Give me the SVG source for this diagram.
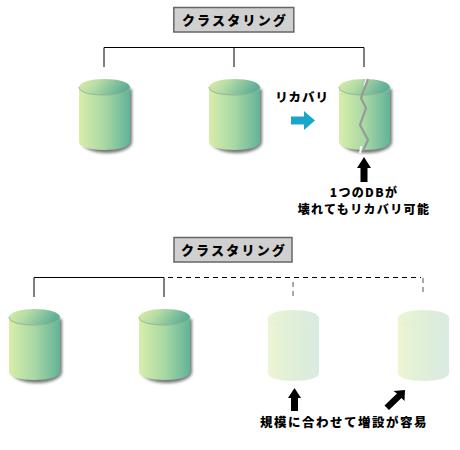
<svg xmlns="http://www.w3.org/2000/svg" width="460" height="450" viewBox="0 0 460 450">
<style>
text{font-family:"Noto Sans CJK JP","Noto Sans",sans-serif;font-weight:900;fill:#000;text-anchor:middle}
.t{font-size:13px;letter-spacing:2.2px}
.l{font-size:12.500px;letter-spacing:.9px}
.n{font-size:12px;letter-spacing:1.350px}
.w{font-size:12.500px;letter-spacing:1.500px}
.box{fill:#d0d0d0;stroke:#666;stroke-width:1.500}
.blk{stroke:#000;stroke-width:1;fill:none}
.gry{stroke:#808080;stroke-width:1.600;fill:none}
.dsh{stroke:#000;stroke-width:1;fill:none;stroke-dasharray:5 4}
.dsv{stroke:#555;stroke-width:1;fill:none;stroke-dasharray:5 4}
</style>
<defs>
<linearGradient id="body" x1="0" x2="1" y1="0" y2="0"><stop offset="0" stop-color="#d8eeaa"/><stop offset=".5" stop-color="#a8d8a4"/><stop offset="1" stop-color="#62b398"/></linearGradient>
<linearGradient id="top" x1="0" x2="1" y1="0" y2=".25"><stop offset="0" stop-color="#dcefa8"/><stop offset=".4" stop-color="#b5dca4"/><stop offset="1" stop-color="#5fae98"/></linearGradient>
<linearGradient id="gbody" x1="0" x2="1" y1="0" y2="0"><stop offset="0" stop-color="#ecf5d4"/><stop offset=".5" stop-color="#e0efd8"/><stop offset="1" stop-color="#d8eae2"/></linearGradient>
<filter id="sh" x="-20%" y="-20%" width="150%" height="140%"><feGaussianBlur stdDeviation="1.400"/></filter>
<g id="cyl">
<path d="M3 10V63C3 69 14 74 28 74S53 69 53 63V10Z" fill="#777" filter="url(#sh)"/>
<path d="M0 8V63C0 68 11 71 25.500 71S51 68 51 63V8Z" fill="url(#body)"/>
<ellipse cx="25.500" cy="8" rx="25.500" ry="8" fill="url(#top)"/>
<path d="M0 8C0 13 11 16 25.500 16S51 13 51 8" fill="none" stroke="#8fb890" stroke-width="1"/>
</g>
<g id="ghost">
<path d="M0 8V63C0 68 11 71 25.500 71S51 68 51 63V8Z" fill="url(#gbody)"/>
<ellipse cx="25.500" cy="8" rx="25.500" ry="8" fill="url(#gbody)"/>
<path d="M0 8C0 13 11 16 25.500 16S51 13 51 8" fill="none" stroke="#e4eedc" stroke-width="1"/>
</g>
</defs>
<g id="connectors">
<path class="blk" d="M104 67V47.500H364V67M234 47.500V67"/>
<path class="gry" d="M104 50V67M234 50V67M364 50V67"/>
<path class="blk" d="M34 297V277.500H164V297"/>
<path class="gry" d="M34 280V297M164 280V297"/>
<path class="dsh" d="M168 277.500H421"/>
<path class="dsv" d="M293 282V298M423 278V295"/>
</g>
<g id="title1"><rect class="box" x="173.800" y="7.500" width="120" height="24.500"/><text class="t" x="235" y="25">クラスタリング</text></g>
<g id="db1"><use href="#cyl" x="79" y="79"/></g>
<g id="db2"><use href="#cyl" x="209" y="79"/></g>
<g id="recovery"><text class="l" x="302" y="102">リカバリ</text><path d="M291 116.500H304V111L315 120.500 304 130V124.500H291Z" fill="#1aa6c8"/></g>
<g id="db3">
<g transform="translate(339 79)">
<use href="#cyl"/>
<path d="M28 -1 25.500 7M22.500 67 21 74" fill="none" stroke="#fff" stroke-width="2"/>
<path d="M29 0 22 19 27 29 21 46 29 61 24 72" fill="none" stroke="#999" stroke-width="2.200"/>
</g>
</g>
<g id="note1"><path d="M360.500 182V168H357L364 157 371 168H367.500V182Z" fill="#000"/><text class="n" x="364" y="196.500">1つのDBが</text><text class="n" x="364" y="214">壊れてもリカバリ可能</text></g>
<g id="title2"><rect class="box" x="174" y="237.500" width="118" height="24.500"/><text class="t" x="234" y="255">クラスタリング</text></g>
<g id="db4"><use href="#cyl" x="9" y="309"/></g>
<g id="db5"><use href="#cyl" x="139" y="309"/></g>
<g id="db6"><use href="#ghost" x="268" y="310"/></g>
<g id="db7"><use href="#ghost" x="398" y="310"/></g>
<g id="note2"><path d="M291 411V398H288L294.500 388 301 398H298V411Z" fill="#000"/><path d="M389 410 384.500 405.500 397 393.500 393.500 391 405 390 404.500 401 401.500 398Z" fill="#000"/><text class="w" x="344" y="427">規模に合わせて増設が容易</text></g>
</svg>
